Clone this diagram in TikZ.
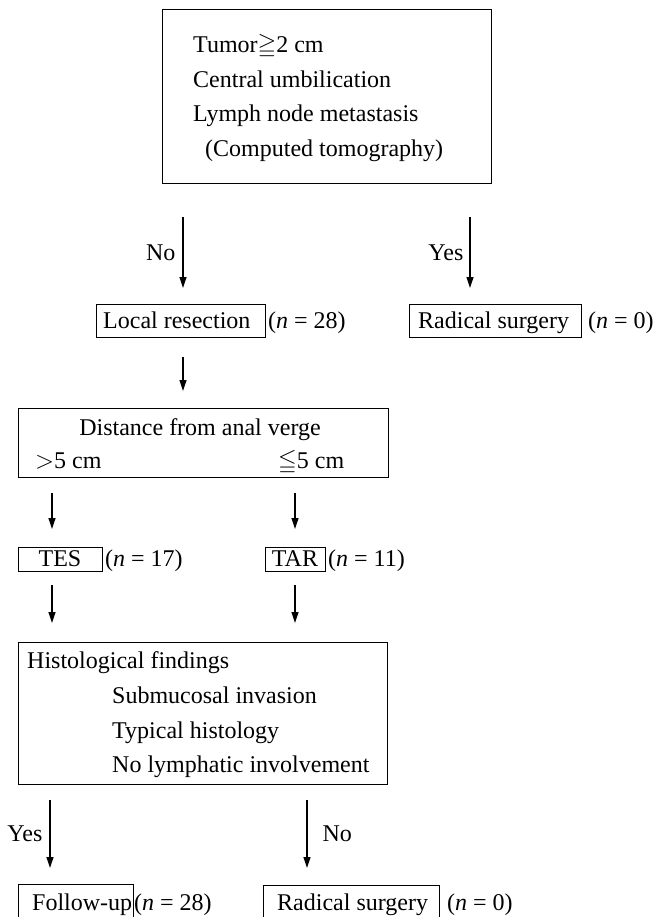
\documentclass[tikz,border=0pt]{standalone}
\usepackage{fontspec}
\usepackage{amssymb}
\setmainfont{Liberation Serif}
\usetikzlibrary{arrows.meta}
\begin{document}
\begin{tikzpicture}[x=1pt,y=-1pt,
  box/.style={draw, line width=1.3pt, inner sep=0pt, anchor=north west},
  txt/.style={anchor=base west, inner sep=0pt, font=\fontsize{24}{28}\selectfont},
  ctxt/.style={anchor=base, inner sep=0pt, font=\fontsize{24}{28}\selectfont},
  lbl/.style={inner sep=0pt, font=\fontsize{24}{28}\selectfont},
  arr/.style={line width=1.2pt, -{Triangle[length=11pt,width=7pt]}}]
\useasboundingbox (0,0) rectangle (653,917);
\clip (0,0) rectangle (653,917);

% top criteria box
\node[box, minimum width=329pt, minimum height=174pt] (crit) at (162,9) {};
\node[txt] (c1) at (193,53) {Tumor$\geqq$2 cm};
\node[txt] (c2) at (193,88) {Central umbilication};
\node[txt] (c3) at (193,122) {Lymph node metastasis};
\node[txt] (c4) at (205,157) {(Computed tomography)};

% first decision arrows
\coordinate (a1s) at (183,217); \coordinate (a1e) at (183,288);
\coordinate (a2s) at (470,217); \coordinate (a2e) at (470,288);
\draw[arr] (a1s) -- (a1e) node[lbl, midway, anchor=east, xshift=-7pt] (no1) {No};
\draw[arr] (a2s) -- (a2e) node[lbl, midway, anchor=east, xshift=-6pt] (yes1) {Yes};

% local resection / radical surgery
\node[box, minimum width=169pt, minimum height=33pt] (local) at (96,304) {};
\node[txt] (localt) at (103,328) {Local resection};
\node[txt] (n28a) at (268,328) {(\textit{n} = 28)};
\node[box, minimum width=172pt, minimum height=33pt] (rad1) at (409,304) {};
\node[txt] (rad1t) at (418,328) {Radical surgery};
\node[txt] (n0a) at (588,328) {(\textit{n} = 0)};

% to distance box
\coordinate (a3s) at (183,357); \coordinate (a3e) at (183,391);
\draw[arr] (a3s) -- (a3e);

\node[box, minimum width=370pt, minimum height=69pt] (dist) at (18,408) {};
\node[ctxt] (distt) at (200,435) {Distance from anal verge};
\node[txt] (gt5) at (35,468) {$>$5 cm};
\node[txt] (le5) at (278,468) {$\leqq$5 cm};

% to TES / TAR
\coordinate (a4s) at (52,493); \coordinate (a4e) at (52,529);
\coordinate (a5s) at (295,493); \coordinate (a5e) at (295,529);
\draw[arr] (a4s) -- (a4e);
\draw[arr] (a5s) -- (a5e);

\node[box, minimum width=84pt, minimum height=24pt] (tes) at (18,547) {};
\node[ctxt] (test) at (60,566) {TES};
\node[txt] (n17) at (105,566) {(\textit{n} = 17)};
\node[box, minimum width=60pt, minimum height=24pt] (tar) at (265,547) {};
\node[ctxt] (tart) at (295,566) {TAR};
\node[txt] (n11) at (328,566) {(\textit{n} = 11)};

% to histology
\coordinate (a6s) at (52,585); \coordinate (a6e) at (52,623);
\coordinate (a7s) at (295,585); \coordinate (a7e) at (295,623);
\draw[arr] (a6s) -- (a6e);
\draw[arr] (a7s) -- (a7e);

\node[box, minimum width=369pt, minimum height=142pt] (hist) at (18,642) {};
\node[txt] (h1) at (27,668) {Histological findings};
\node[txt] (h2) at (112,703) {Submucosal invasion};
\node[txt] (h3) at (112,738) {Typical histology};
\node[txt] (h4) at (112,772) {No lymphatic involvement};

% final decision arrows
\coordinate (a8s) at (50,800); \coordinate (a8e) at (50,868);
\coordinate (a9s) at (307,800); \coordinate (a9e) at (307,868);
\draw[arr] (a8s) -- (a8e) node[lbl, midway, anchor=east, xshift=-7pt] (yes2) {Yes};
\draw[arr] (a9s) -- (a9e) node[lbl, midway, anchor=west, xshift=15pt] (no2) {No};

% outcomes
\node[box, minimum width=115pt, minimum height=40pt] (fu) at (18,884) {};
\node[txt] (fut) at (32,910) {Follow-up};
\node[txt] (n28b) at (134,910) {(\textit{n} = 28)};
\node[box, minimum width=176pt, minimum height=40pt] (rad2) at (263,885) {};
\node[txt] (rad2t) at (277,910) {Radical surgery};
\node[txt] (n0b) at (447,910) {(\textit{n} = 0)};
\end{tikzpicture}
\end{document}
